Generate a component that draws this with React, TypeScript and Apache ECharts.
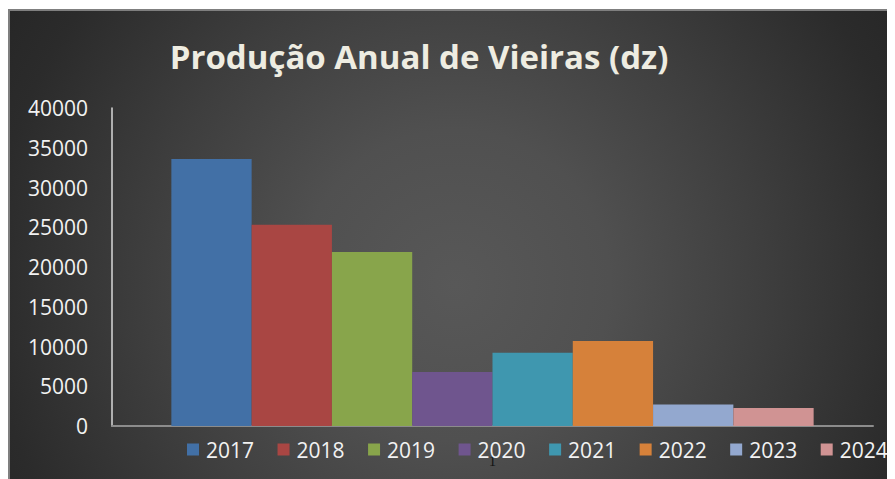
import React, { useEffect, useRef } from "react";
import * as echarts from "echarts";

const years = ["2017", "2018", "2019", "2020", "2021", "2022", "2023", "2024"];
const production = [33600, 25300, 21900, 6800, 9200, 10700, 2700, 2250];
const barColors = ["#4270A6", "#A94643", "#88A54B", "#6F558E", "#3F97AF", "#D6813A", "#93A8CF", "#D09393"];
const categories = ["1"];
const titleText = "Produção Anual de Vieiras (dz)";

export default function App() {
  const ref = useRef<HTMLDivElement>(null);
  useEffect(() => {
    document.documentElement.style.overflow = "hidden";
    document.body.style.overflow = "hidden";
    const chart = echarts.init(ref.current!, undefined, { renderer: "svg" });
    const font = "'Open Sans', sans-serif";
    chart.setOption({
      animation: false,
      backgroundColor: {
        type: "radial",
        x: 445,
        y: 274,
        r: 620,
        global: true,
        colorStops: [
          { offset: 0, color: "#585858" },
          { offset: 0.25, color: "#505050" },
          { offset: 0.5, color: "#3e3e3e" },
          { offset: 0.75, color: "#2b2b2b" },
          { offset: 1, color: "#202020" },
        ],
      },
      graphic: [
        {
          type: "text",
          x: 409,
          y: 45,
          style: {
            text: titleText,
            fill: "#EEECE1",
            font: "bold 33px 'Open Sans', sans-serif",
            textAlign: "center",
            textVerticalAlign: "middle",
          },
        },
      ],
      grid: { left: 102, right: 37, top: 97, bottom: 65, containLabel: false },
      legend: {
        left: 177,
        top: 428,
        padding: 0,
        itemWidth: 12,
        itemHeight: 12,
        itemGap: 23.5,
        icon: "rect",
        textStyle: { color: "#F2F2F2", fontSize: 21, fontFamily: font, padding: [0, 0, 0, 2] },
        data: years,
      },
      xAxis: {
        type: "category",
        data: categories,
        axisLine: { lineStyle: { color: "#8C8C8C", width: 2 } },
        axisTick: { show: false },
        axisLabel: { color: "#111", fontSize: 14, fontFamily: "serif", margin: 28 },
      },
      yAxis: {
        type: "value",
        min: 0,
        max: 40000,
        interval: 5000,
        axisLine: { show: true, lineStyle: { color: "#D9D9D9", width: 1.5 } },
        axisTick: { show: false },
        splitLine: { show: false },
        axisLabel: {
          color: "#F2F2F2",
          fontSize: 21,
          fontFamily: font,
          margin: 24,
          formatter: (v: number) => String(v),
        },
      },
      series: years.map((y, i) => ({
        name: y,
        type: "bar",
        data: [production[i]],
        itemStyle: { color: barColors[i] },
        barGap: "0%",
        barCategoryGap: "15.6%",
      })),
    });
    return () => chart.dispose();
  }, []);
  return (
    <div
      style={{
        position: "relative",
        top: 1,
        width: 900,
        height: 480,
        borderLeft: "2px solid #7F7F7F",
        borderTop: "2px solid #7F7F7F",
      }}
    >
      <div ref={ref} style={{ width: 900, height: 480 }} />
    </div>
  );
}
